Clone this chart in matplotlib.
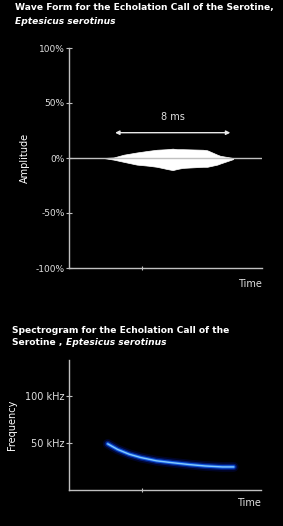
import numpy as np
import matplotlib
matplotlib.use("Agg")
import matplotlib.pyplot as plt

# waveform envelope (time in ms, amplitude in %)
wave_t = [2.4, 3.1, 3.8, 4.7, 5.5, 6.1, 6.8, 7.2, 7.5, 7.9, 9.3, 9.6, 10.3, 10.5, 11.4]
wave_hi = [0, 0.5, 3, 5, 6.5, 7.5, 8, 8.5, 8, 8, 7.5, 7, 3, 2, 0]
wave_lo = [0, -1.5, -3.5, -6, -7, -8, -10, -11, -10, -9, -8, -8, -6, -5, -1]
amp_ticks = [100, 50, 0, -50, -100]
amp_labels = ["100%", "50%", "0%", "-50%", "-100%"]
arrow_span = [3.2, 11.2]

# spectrogram call (time in ms, frequency in kHz)
spec_t = [2.7, 3.4, 4.2, 5.0, 6.1, 7.2, 8.4, 9.5, 10.7, 11.5]
spec_f = [49, 43, 38, 34.5, 31, 29, 27, 25.5, 24.5, 24.5]
freq_ticks = [100, 50]
freq_labels = ["100 kHz", "50 kHz"]

axis_col = "#c0c0c0"
txt_col = "#e0e0e0"

fig = plt.figure(figsize=(2.83, 5.26), dpi=100, facecolor="black")


def style(ax):
    ax.set_facecolor("black")
    for s in ["top", "right"]:
        ax.spines[s].set_visible(False)
    for s in ["left", "bottom"]:
        ax.spines[s].set_color(axis_col)
        ax.spines[s].set_linewidth(1)
    ax.tick_params(colors=axis_col, labelcolor=txt_col, direction="inout",
                   length=4, width=0.8, labelsize=6.5, pad=1)
    ax.set_xticks([5.1])
    ax.set_xticklabels([""])
    ax.tick_params(axis="x", length=3)


# --- wave form ---
ax1 = fig.add_axes([69 / 283, 1 - 268 / 526, 193 / 283, 220 / 526])
style(ax1)
ax1.set_xlim(0, 13.4)
ax1.set_ylim(-100, 100)
ax1.set_yticks(amp_ticks)
ax1.set_yticklabels(amp_labels)
ax1.axhline(0, color=axis_col, lw=1)
ax1.fill_between(wave_t, wave_lo, wave_hi, color="white", lw=0.5, ec="white")
ax1.annotate("", xy=(arrow_span[0], 23), xytext=(arrow_span[1], 23),
             arrowprops=dict(arrowstyle="<|-|>", color="#e8e8e8", lw=1,
                             mutation_scale=6, shrinkA=0, shrinkB=0))
ax1.text(np.mean(arrow_span), 33, "8 ms", color=txt_col, fontsize=7,
         ha="center", va="bottom")
ax1.text(1.0, -0.05, "Time", transform=ax1.transAxes, color=txt_col,
         fontsize=7, ha="right", va="top")
ax1.set_ylabel("Amplitude", color="white", fontsize=7, labelpad=4)

fig.text(15 / 283, 1 - 3 / 526, "Wave Form for the Echolation Call of the Serotine,",
         color="white", fontsize=6.6, fontweight="bold", va="top")
fig.text(15 / 283, 1 - 17 / 526, "Eptesicus serotinus", color="white",
         fontsize=6.6, fontweight="bold", style="italic", va="top")

# --- spectrogram ---
ax2 = fig.add_axes([69 / 283, 1 - 490 / 526, 192 / 283, 130 / 526])
style(ax2)
ax2.set_xlim(0, 13.4)
ax2.set_ylim(0, 138)
ax2.set_yticks(freq_ticks)
ax2.set_yticklabels(freq_labels)
ax2.tick_params(axis="y", labelsize=7)
for w, a, c in [(7, 0.15, "#0020ff"), (4.5, 0.35, "#0040ff"),
                (2.5, 0.8, "#1a6cff"), (1.0, 0.9, "#8fd8ff")]:
    ax2.plot(spec_t, spec_f, color=c, lw=w, alpha=a, solid_capstyle="round")
ax2.text(1.0, -0.06, "Time", transform=ax2.transAxes, color=txt_col,
         fontsize=7, ha="right", va="top")
ax2.set_ylabel("Frequency", color="white", fontsize=7, labelpad=6)

fig.text(12 / 283, 1 - 326 / 526, "Spectrogram for the Echolation Call of the",
         color="white", fontsize=6.6, fontweight="bold", va="top")
fig.text(12 / 283, 1 - 338 / 526, "Serotine , ", color="white",
         fontsize=6.6, fontweight="bold", va="top")
fig.text(66 / 283, 1 - 338 / 526, "Eptesicus serotinus", color="white",
         fontsize=6.6, fontweight="bold", style="italic", va="top")

fig.savefig("out.png", dpi=100, facecolor="black")
